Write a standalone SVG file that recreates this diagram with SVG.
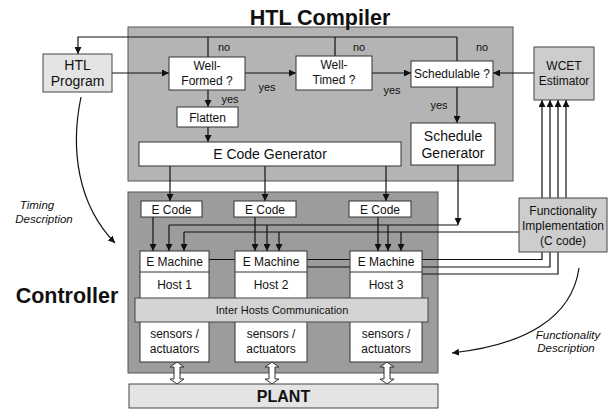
<svg xmlns="http://www.w3.org/2000/svg" width="608" height="414" viewBox="0 0 608 414">
<style>
text{font-family:"Liberation Sans",Arial,sans-serif;fill:#111;text-anchor:middle}
.box{fill:#fff;stroke:#333;stroke-width:1}
.ln{fill:none;stroke:#111;stroke-width:1.2}
.t12{font-size:12px}
.t14{font-size:14px}
.sm{font-size:11px}
.it{font-size:11.5px;font-style:italic}
.big{font-size:21.5px;font-weight:bold}
</style>
<defs>
<marker id="ah" viewBox="0 0 10 10" refX="10" refY="5" markerWidth="7" markerHeight="7" markerUnits="userSpaceOnUse" orient="auto">
<path d="M0,0 L10,5 L0,10 z" fill="#111"/>
</marker>
</defs>
<rect x="0" y="0" width="608" height="414" fill="#fff"/>

<!-- containers -->
<g id="compiler">
<rect x="128" y="27" width="385" height="154" fill="#b4b4b4" stroke="#555" stroke-width="1"/>
<text x="320" y="25" class="big">HTL Compiler</text>
</g>
<g id="controller">
<rect x="128" y="192" width="310" height="181" fill="#9c9c9c" stroke="#555" stroke-width="1"/>
<text x="67" y="303" class="big" style="font-size:21.5px">Controller</text>
</g>

<!-- connectors -->
<g id="connectors">
<path class="ln" d="M208,57 V37 M335,56 V37 M457,61 V37 M457,37 H78 V54" marker-end="url(#ah)"/>
<path class="ln" d="M112,73 H169" marker-end="url(#ah)"/>
<path class="ln" d="M245,73 H296" marker-end="url(#ah)"/>
<path class="ln" d="M372,73 H411" marker-end="url(#ah)"/>
<path class="ln" d="M534,73 H493" marker-end="url(#ah)"/>
<path class="ln" d="M208,90 V107" marker-end="url(#ah)"/>
<path class="ln" d="M208,127 V142" marker-end="url(#ah)"/>
<path class="ln" d="M457,87 V123" marker-end="url(#ah)"/>
<path class="ln" d="M170,166 V201" marker-end="url(#ah)"/>
<path class="ln" d="M265,166 V201" marker-end="url(#ah)"/>
<path class="ln" d="M386,166 V201" marker-end="url(#ah)"/>
<path class="ln" d="M458,165 V225" marker-end="url(#ah)"/>
<path class="ln" d="M169,225 H458"/>
<path class="ln" d="M184,232 H519"/>
<path class="ln" d="M153,217 V251" marker-end="url(#ah)"/>
<path class="ln" d="M169,225 V251" marker-end="url(#ah)"/>
<path class="ln" d="M184,232 V251" marker-end="url(#ah)"/>
<path class="ln" d="M255,217 V251" marker-end="url(#ah)"/>
<path class="ln" d="M267,225 V251" marker-end="url(#ah)"/>
<path class="ln" d="M279,232 V251" marker-end="url(#ah)"/>
<path class="ln" d="M378,217 V251" marker-end="url(#ah)"/>
<path class="ln" d="M388,225 V251" marker-end="url(#ah)"/>
<path class="ln" d="M401,232 V251" marker-end="url(#ah)"/>
<path class="ln" d="M209,259.5 H542 V100" marker-end="url(#ah)"/>
<path class="ln" d="M307,267 H550 V100" marker-end="url(#ah)"/>
<path class="ln" d="M421,274 H558 V100" marker-end="url(#ah)"/>
<path class="ln" d="M566,198 V100" marker-end="url(#ah)"/>
<path class="ln" d="M81,97 C70,150 78,205 115,243" marker-end="url(#ah)"/>
<path class="ln" d="M579,268 C572,318 525,345 452,353" marker-end="url(#ah)"/>
<g fill="#fff" stroke="#333" stroke-width="1">
<path d="M177,362 L184,367 L180,367 L180,379 L184,379 L177,384 L170,379 L174,379 L174,367 L170,367 Z"/>
<path d="M272,362 L279,367 L275,367 L275,379 L279,379 L272,384 L265,379 L269,379 L269,367 L265,367 Z"/>
<path d="M387,362 L394,367 L390,367 L390,379 L394,379 L387,384 L380,379 L384,379 L384,367 L380,367 Z"/>
</g>
<g class="sm">
<text x="224" y="51">no</text>
<text x="359" y="51">no</text>
<text x="482" y="51">no</text>
<text x="230" y="103">yes</text>
<text x="267" y="91">yes</text>
<text x="392" y="94">yes</text>
<text x="439" y="109">yes</text>
</g>
<text x="37" y="209" class="it">Timing</text>
<text x="44" y="223" class="it">Description</text>
<text x="568" y="339" class="it">Functionality</text>
<text x="566" y="352" class="it">Description</text>
</g>

<!-- nodes -->
<g id="htl-program">
<rect x="43" y="54" width="69" height="38" fill="#e4e4e4" stroke="#444"/>
<text x="77.5" y="70" class="t14">HTL</text>
<text x="77.5" y="86" class="t14">Program</text>
</g>
<g id="well-formed">
<rect x="169" y="57" width="76" height="33" class="box"/>
<text x="207" y="70" class="t12">Well-</text>
<text x="207" y="85" class="t12">Formed ?</text>
</g>
<g id="well-timed">
<rect x="296" y="56" width="76" height="34" class="box"/>
<text x="334" y="69" class="t12">Well-</text>
<text x="334" y="84" class="t12">Timed ?</text>
</g>
<g id="schedulable">
<rect x="411" y="61" width="82" height="26" class="box"/>
<text x="452" y="78" class="t12">Schedulable ?</text>
</g>
<g id="wcet">
<rect x="534" y="47" width="60" height="53" fill="#cdcdcd" stroke="#444"/>
<text x="564" y="70" class="t12">WCET</text>
<text x="564" y="85" class="t12">Estimator</text>
</g>
<g id="flatten">
<rect x="177" y="107" width="61" height="20" class="box"/>
<text x="207.5" y="122" class="t12">Flatten</text>
</g>
<g id="schedule-generator">
<rect x="411" y="123" width="84" height="42" class="box"/>
<text x="453" y="141" class="t14">Schedule</text>
<text x="453" y="158" class="t14">Generator</text>
</g>
<g id="ecode-generator">
<rect x="139" y="142" width="262" height="24" class="box"/>
<text x="270" y="159" class="t14">E Code Generator</text>
</g>
<g id="ecode1">
<rect x="141" y="201" width="61" height="16" class="box"/>
<text x="171.5" y="214" class="t12">E Code</text>
</g>
<g id="ecode2">
<rect x="234" y="201" width="62" height="16" class="box"/>
<text x="265" y="214" class="t12">E Code</text>
</g>
<g id="ecode3">
<rect x="349" y="201" width="62" height="16" class="box"/>
<text x="380" y="214" class="t12">E Code</text>
</g>
<g id="host1">
<rect x="140" y="251" width="69" height="111" class="box"/>
<line x1="140" y1="272" x2="209" y2="272" stroke="#333"/>
<text x="174.5" y="266" class="t12">E Machine</text>
<text x="174.5" y="289" class="t12">Host 1</text>
<text x="174.5" y="338" class="t12">sensors /</text>
<text x="174.5" y="353" class="t12">actuators</text>
</g>
<g id="host2">
<rect x="235" y="251" width="72" height="111" class="box"/>
<line x1="235" y1="272" x2="307" y2="272" stroke="#333"/>
<text x="271" y="266" class="t12">E Machine</text>
<text x="271" y="289" class="t12">Host 2</text>
<text x="271" y="338" class="t12">sensors /</text>
<text x="271" y="353" class="t12">actuators</text>
</g>
<g id="host3">
<rect x="350" y="251" width="72" height="111" class="box"/>
<line x1="350" y1="272" x2="422" y2="272" stroke="#333"/>
<text x="386" y="266" class="t12">E Machine</text>
<text x="386" y="289" class="t12">Host 3</text>
<text x="386" y="338" class="t12">sensors /</text>
<text x="386" y="353" class="t12">actuators</text>
</g>
<g id="inter-hosts">
<rect x="135" y="298" width="293" height="24" fill="#d4d4d4" stroke="#444"/>
<text x="282" y="314" class="sm">Inter Hosts Communication</text>
</g>
<g id="functionality">
<rect x="519" y="198" width="88" height="54" fill="#cdcdcd" stroke="#444"/>
<text x="563" y="215" class="t12">Functionality</text>
<text x="563" y="230" class="t12">Implementation</text>
<text x="563" y="245" class="t12">(C code)</text>
</g>
<g id="plant">
<rect x="129" y="384" width="309" height="24" fill="#e4e4e4" stroke="#444"/>
<text x="283.5" y="402" style="font-size:16px;font-weight:bold">PLANT</text>
</g>
</svg>
